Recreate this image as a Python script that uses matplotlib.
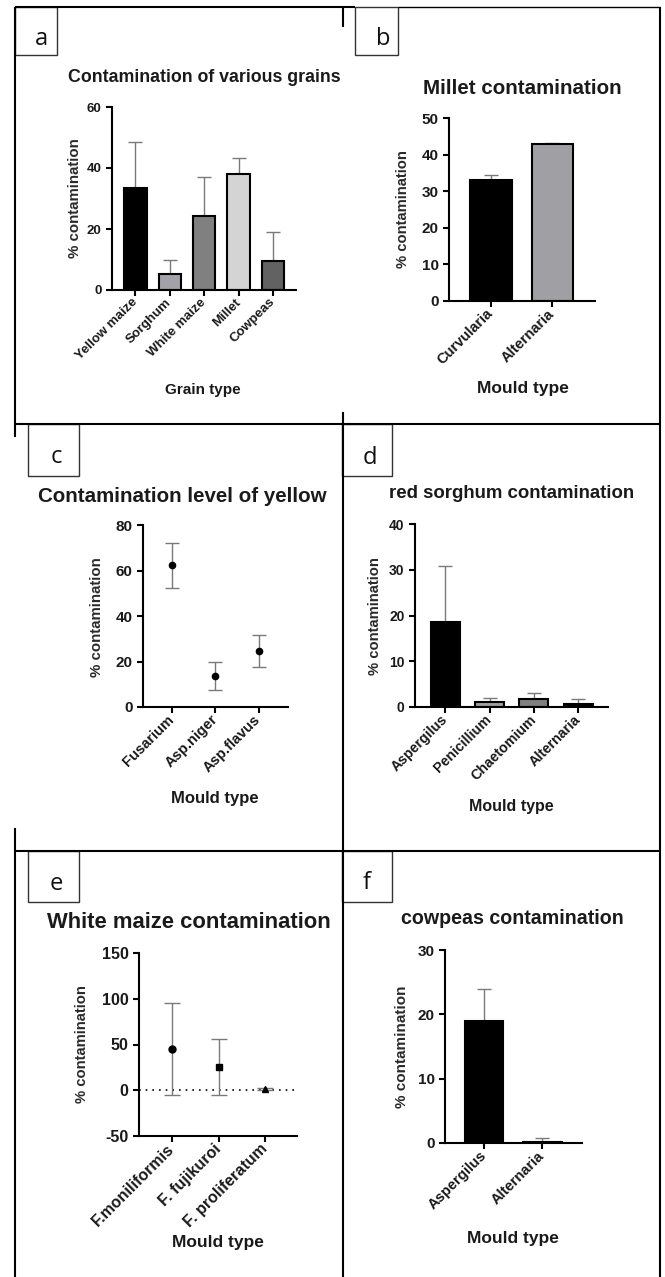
import numpy as np
import matplotlib
matplotlib.use('Agg')
from matplotlib import pyplot as plt
from matplotlib.patches import Rectangle

plt.rcParams['font.family'] = ['Liberation Sans', 'DejaVu Sans']

W, H = 665, 1277
TXT = '#1a1a1a'
ERR = '#7a7a7a'

# panel a: contamination of various grains
grains = ['Yellow maize', 'Sorghum', 'White maize', 'Millet', 'Cowpeas']
grain_vals = [33.5, 5.2, 24.2, 38.1, 9.4]
grain_err = [14.9, 4.8, 12.9, 5.1, 9.7]
grain_colors = ['#000000', '#a2a2a8', '#808080', '#d4d4d4', '#626262']

# panel b: millet
millet_moulds = ['Curvularia', 'Alternaria']
millet_vals = [33.0, 43.0]
millet_err = [1.5, 0.3]
millet_colors = ['#000000', '#a0a0a4']

# panel c: yellow maize
yellow_moulds = ['Fusarium', 'Asp.niger', 'Asp.flavus']
yellow_vals = [62.3, 13.7, 24.6]
yellow_err = [9.9, 6.1, 7.2]

# panel d: red sorghum
sorghum_moulds = ['Aspergilus', 'Penicillium', 'Chaetomium', 'Alternaria']
sorghum_vals = [18.5, 1.1, 1.7, 0.7]
sorghum_err = [12.3, 0.8, 1.3, 1.0]
sorghum_colors = ['#000000', '#a0a0a0', '#808080', '#000000']

# panel e: white maize
white_moulds = ['F.moniliformis', 'F. fujikuroi', 'F. proliferatum']
white_vals = [45.3, 25.5, 1.1]
white_err = [50.0, 30.2, 1.0]
white_markers = ['o', 's', '^']

# panel f: cowpeas
cowpea_moulds = ['Aspergilus', 'Alternaria']
cowpea_vals = [18.9, 0.2]
cowpea_err = [5.1, 0.5]
cowpea_colors = ['#000000', '#000000']


fig = plt.figure(figsize=(W / 100, H / 100), dpi=100)

# overlay in pixel coordinates for frames, labels and titles
ov = fig.add_axes([0, 0, 1, 1])
ov.set_xlim(0, W)
ov.set_ylim(H, 0)
ov.axis('off')


def line(x0, y0, x1, y1, lw=1.5):
    ov.plot([x0, x1], [y0, y1], color='k', lw=lw, solid_capstyle='butt')


line(15, 7, 355, 7)
line(398, 7, 660, 7, lw=1.0)
line(15, 7, 15, 437)
line(343, 7, 343, 27)
line(343, 412, 343, 1277)
line(660, 7, 660, 1277)
line(15, 424, 660, 424)
line(15, 828, 15, 1277)
line(15, 851, 660, 851)

label_boxes = {
    'a': ((15, 7, 57, 55), (41, 45)),
    'b': ((355, 7, 398, 55), (383, 45)),
    'c': ((28, 424, 79, 476), (56, 463)),
    'd': ((342, 424, 392, 476), (370, 464)),
    'e': ((28, 851, 79, 902), (56, 890)),
    'f': ((342, 851, 392, 902), (367, 889)),
}
for lab, ((x0, y0, x1, y1), (tx, ty)) in label_boxes.items():
    ov.add_patch(Rectangle((x0, y0), x1 - x0, y1 - y0, fc='white',
                           ec='#333333', lw=1.0))
    ov.text(tx, ty, lab, ha='center', va='baseline', fontsize=17,
            family=['Open Sans', 'DejaVu Sans'], color='#111111')


def px_axes(x0, y0, x1, y1):
    return fig.add_axes([x0 / W, 1 - y1 / H, (x1 - x0) / W, (y1 - y0) / H])


def style(ax, names, xlim, yticks, tick_fs, xtick_fs):
    for s in ['top', 'right']:
        ax.spines[s].set_visible(False)
    for s in ['left', 'bottom']:
        ax.spines[s].set_linewidth(1.5)
    ax.set_xlim(*xlim)
    ax.set_ylim(yticks[0], yticks[-1])
    ax.set_yticks(yticks, labels=[str(t) for t in yticks],
                  fontweight='bold', fontsize=tick_fs, color=TXT)
    ax.set_xticks(np.arange(len(names)), labels=names, rotation=45,
                  ha='right', va='center', rotation_mode='anchor',
                  fontweight='bold', fontsize=xtick_fs, color=TXT)
    ax.tick_params(width=1.5, length=4.5, pad=3)
    ax.patch.set_alpha(0)


def texts(title, tpos, tfs, ypos, yfs, xpos, xlab, xfs):
    ov.text(*tpos, title, ha='center', va='center', fontsize=tfs,
            fontweight='bold', color=TXT)
    ov.text(*ypos, '% contamination', ha='center', va='center', fontsize=yfs,
            rotation=90, fontweight='bold', color='#2a2a2a')
    ov.text(*xpos, xlab, ha='center', va='center', fontsize=xfs,
            fontweight='bold', color=TXT)


def bars(ax, vals, errs, colors, width):
    x = np.arange(len(vals))
    ax.errorbar(x, vals, yerr=[np.zeros(len(vals)), errs], fmt='none',
                ecolor=ERR, elinewidth=1.0, capsize=5, capthick=1.0, zorder=1)
    ax.bar(x, vals, width=width, color=colors, edgecolor='k', linewidth=1.5,
           zorder=2)


# a
ax = px_axes(112, 107, 296, 290)
bars(ax, grain_vals, grain_err, grain_colors, 0.65)
style(ax, grains, (-0.68, 4.67), [0, 20, 40, 60], 9.5, 9.5)
texts('Contamination of various grains', (204, 77), 12.8,
      (75, 198), 10.8, (203, 390), 'Grain type', 11)

# b
ax = px_axes(449, 118, 595, 301)
bars(ax, millet_vals, millet_err, millet_colors, 0.67)
style(ax, millet_moulds, (-0.68, 1.69), [0, 10, 20, 30, 40, 50], 11, 10.5)
texts('Millet contamination', (522, 88), 14.8,
      (403, 209), 10.6, (523, 389), 'Mould type', 12.5)

# c
ax = px_axes(143, 525, 288, 707)
xc = np.arange(len(yellow_vals))
ax.errorbar(xc, yellow_vals, yerr=yellow_err, fmt='none', ecolor=ERR,
            elinewidth=1.0, capsize=5, capthick=1.0, zorder=1)
ax.plot(xc, yellow_vals, 'o', color='k', ms=4.5, zorder=2)
style(ax, yellow_moulds, (-0.67, 2.68), [0, 20, 40, 60, 80], 11, 10.5)
texts('Contamination level of yellow', (182, 496), 14.8,
      (97, 617), 10.8, (215, 798), 'Mould type', 12)

# d
ax = px_axes(415, 524, 608, 707)
bars(ax, sorghum_vals, sorghum_err, sorghum_colors, 0.65)
style(ax, sorghum_moulds, (-0.68, 3.67), [0, 10, 20, 30, 40], 10, 10.2)
texts('red sorghum contamination', (512, 494), 13.4,
      (375, 616), 10.6, (511, 806), 'Mould type', 11.5)

# e
ax = px_axes(139, 953, 297, 1136)
xe = np.arange(len(white_vals))
ax.axhline(0, color='k', lw=1.2, ls=(0, (1, 3)), zorder=0)
ax.errorbar(xe, white_vals, yerr=white_err, fmt='none', ecolor=ERR,
            elinewidth=1.0, capsize=6, capthick=1.0, zorder=1)
for xi, v, m in zip(xe, white_vals, white_markers):
    ax.plot(xi, v, m, color='k', ms=5, zorder=2)
style(ax, white_moulds, (-0.71, 2.68), [-50, 0, 50, 100, 150], 11.5, 11.5)
texts('White maize contamination', (189, 923), 15.8,
      (82, 1044), 10.6, (218, 1243), 'Mould type', 12.5)

# f
ax = px_axes(445, 950, 582, 1143)
bars(ax, cowpea_vals, cowpea_err, cowpea_colors, 0.66)
style(ax, cowpea_moulds, (-0.67, 1.68), [0, 10, 20, 30], 11, 10.5)
texts('cowpeas contamination', (512, 919), 14.1,
      (402, 1047), 11, (513, 1238), 'Mould type', 12.5)

fig.savefig('out.png', dpi=100)
